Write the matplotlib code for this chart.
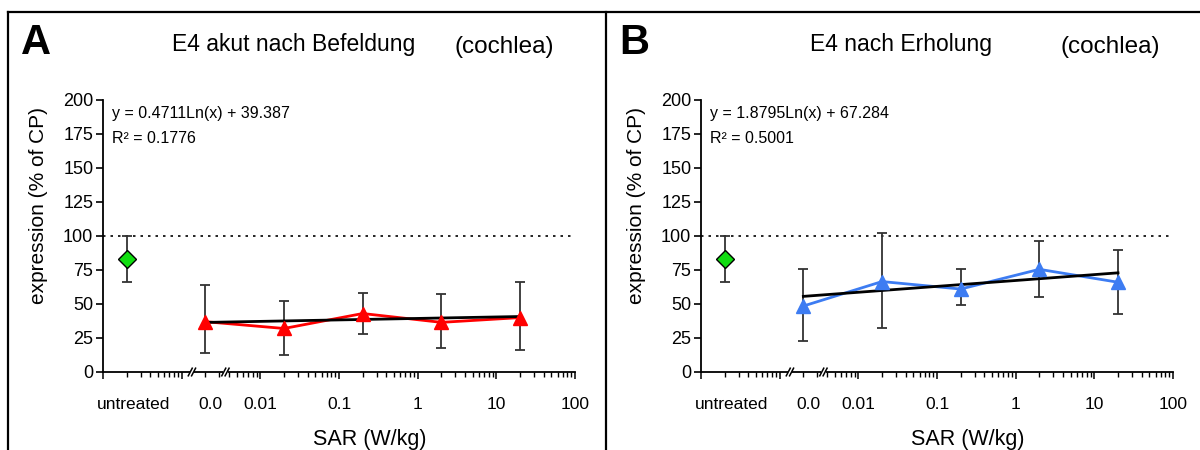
import matplotlib
matplotlib.use("Agg")
import matplotlib.pyplot as plt
import matplotlib.ticker as mticker
import matplotlib.transforms as mtransforms
from matplotlib.lines import Line2D
import numpy as np

plt.rcParams['font.family'] = ['Liberation Sans', 'DejaVu Sans']

# ---------------- data ----------------
untreated_x = 2e-4
untreated_y = 83
untreated_lo = 66
untreated_hi = 100

sar_x = [0.002, 0.02, 0.2, 2, 20]

a_mean = [37, 32, 43, 36.5, 40]
a_lo = [14, 12.5, 28, 17.5, 16.5]
a_hi = [64, 52, 58, 57, 66]
a_coef = (0.4711, 39.387)
a_eq = "y = 0.4711Ln(x) + 39.387"
a_r2 = "R² = 0.1776"
a_title = "E4 akut nach Befeldung"

b_mean = [48.5, 66.5, 61, 75.5, 66]
b_lo = [22.5, 32.5, 49, 55, 43]
b_hi = [76, 102.5, 76, 96.5, 89.5]
b_coef = (1.8795, 67.284)
b_eq = "y = 1.8795Ln(x) + 67.284"
b_r2 = "R² = 0.5001"
b_title = "E4 nach Erholung"

tick_pos = [2e-4, 2e-3, 0.01, 0.1, 1, 10, 100]
tick_labels = ["untreated", "0.0", "0.01", "0.1", "1", "10", "100"]
break_pos = [1.35e-3, 3.6e-3]
yticks = [0, 25, 50, 75, 100, 125, 150, 175, 200]

W, H = 1200, 450
fig = plt.figure(figsize=(12, 4.5), dpi=100)


def fx(p):
    return p / W


def fy(p):
    return 1 - p / H


def panel(left_px, mean, lo, hi, coef, eq, r2, color, title, letter):
    ax = fig.add_axes([fx(left_px), fy(372), 472 / W, 272 / H])
    ax.set_xscale('log')
    ax.set_xlim(1e-4, 100)
    ax.set_ylim(0, 200)
    for s in ['top', 'right']:
        ax.spines[s].set_visible(False)
    for s in ['left', 'bottom']:
        ax.spines[s].set_linewidth(1.3)
    ax.set_yticks(yticks)
    ax.tick_params(axis='y', direction='out', length=5, width=1.2,
                   labelsize=13, pad=2)
    # x ticks
    ax.xaxis.set_major_locator(mticker.FixedLocator([1e-4, 1e-3, 1e-2, 1e-1, 1, 10, 100]))
    ax.xaxis.set_major_formatter(mticker.NullFormatter())
    ax.xaxis.set_minor_locator(mticker.LogLocator(base=10, subs=np.arange(2, 10), numticks=20))
    ax.xaxis.set_minor_formatter(mticker.NullFormatter())
    ax.tick_params(axis='x', which='major', direction='out', length=5, width=1.1)
    ax.tick_params(axis='x', which='minor', direction='out', length=3.5, width=1.0)
    # tick labels as text
    trans = mtransforms.blended_transform_factory(ax.transData, ax.transAxes)
    for p, lab in zip(tick_pos, tick_labels):
        off = 0
        if lab == "untreated":
            off = 5
        elif lab == "0.0":
            off = 3.5
        t = ax.text(p, -0.12, lab, transform=trans, ha='center', va='center',
                    fontsize=12.5)
        t.set_transform(trans + mtransforms.ScaledTranslation(off / 72, 0, fig.dpi_scale_trans))
    # reference line
    ax.axhline(100, color='black', linestyle=(0, (1.5, 3)), linewidth=1.2)
    # untreated
    ax.errorbar([untreated_x], [untreated_y],
                yerr=[[untreated_y - untreated_lo], [untreated_hi - untreated_y]],
                fmt='none', ecolor='#333333', elinewidth=1.3, capsize=3.5, capthick=1.3, zorder=3)
    ax.plot([untreated_x], [untreated_y], marker='D', markersize=9, color='#11dd11',
            markeredgecolor='black', markeredgewidth=1.0, linestyle='none', zorder=5)
    # treated
    m = np.array(mean)
    ax.errorbar(sar_x, mean, yerr=[m - np.array(lo), np.array(hi) - m], fmt='none',
                ecolor='#333333', elinewidth=1.3, capsize=3.5, capthick=1.3, zorder=3)
    ax.plot(sar_x, mean, color=color, linewidth=2.0, zorder=4)
    xs = np.array([sar_x[0], sar_x[-1]])
    ax.plot(xs, coef[0] * np.log(xs) + coef[1], color='black', linewidth=2.0, zorder=4.5)
    ax.plot(sar_x, mean, marker='^', markersize=10.5, color=color, linestyle='none', zorder=6)
    # equation
    ax.text(0.019, 0.952, eq, transform=ax.transAxes, fontsize=11.5, va='center', ha='left')
    ax.text(0.019, 0.857, r2, transform=ax.transAxes, fontsize=11.5, va='center', ha='left')
    # axis breaks
    for bp in break_pos:
        ax.add_patch(plt.Rectangle((bp / 1.07, -2), bp * 1.07 - bp / 1.07, 4,
                                   transform=ax.transData, facecolor='white',
                                   edgecolor='none', clip_on=False, zorder=7))
        for k in (1 / 1.05, 1.05):
            ax.plot([bp * k / 1.06, bp * k * 1.06], [-2.8, 2.8], color='black',
                    linewidth=1.1, clip_on=False, zorder=8)
    # labels
    fig.text(fx(left_px + 267), fy(439), "SAR (W/kg)", fontsize=15.5, ha='center', va='center')
    fig.text(fx(left_px - 64), fy(205), "expression (% of CP)", fontsize=15,
             rotation=90, ha='center', va='center')
    fig.text(fx(left_px - 82), fy(43), letter, fontsize=30, fontweight='bold',
             ha='left', va='center')
    return ax


panel(103, a_mean, a_lo, a_hi, a_coef, a_eq, a_r2, '#ff0000', a_title, 'A')
panel(701, b_mean, b_lo, b_hi, b_coef, b_eq, b_r2, '#3d7cf2', b_title, 'B')

fig.text(fx(172), fy(45), a_title, fontsize=16.5, ha='left', va='center')
fig.text(fx(455), fy(47), "(cochlea)", fontsize=17.5, ha='left', va='center')
fig.text(fx(810), fy(45), b_title, fontsize=16.5, ha='left', va='center')
fig.text(fx(1060), fy(47), "(cochlea)", fontsize=17.5, ha='left', va='center')

# frame lines
for xy in [([8, 1200], [12, 12]), ([8, 8], [12, 450]), ([606, 606], [12, 450])]:
    fig.add_artist(Line2D([fx(v) for v in xy[0]], [fy(v) for v in xy[1]],
                          color='black', linewidth=1.6, transform=fig.transFigure))

fig.savefig("out.png", dpi=100)
